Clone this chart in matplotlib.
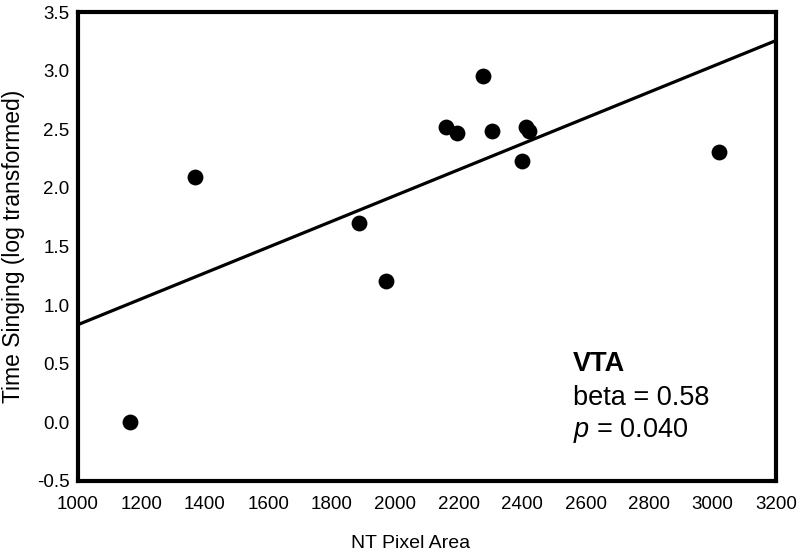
import numpy as np
import matplotlib
matplotlib.use("Agg")
import matplotlib.pyplot as plt

plt.rcParams.update({
    "font.family": ["Liberation Sans", "DejaVu Sans"],
    "mathtext.fontset": "custom",
    "mathtext.it": "Liberation Sans:italic",
    "mathtext.rm": "Liberation Sans",
})

# NT pixel area vs. time singing (log transformed), one point per bird
nt_area = [1164, 1369, 1886, 1971, 2159, 2195, 2277, 2306, 2412, 2422, 2400, 3020]
singing = [0.00, 2.09, 1.70, 1.21, 2.52, 2.465, 2.955, 2.49, 2.517, 2.485, 2.23, 2.31]

x_ticks = list(range(1000, 3201, 200))
y_ticks = [-0.5, 0.0, 0.5, 1.0, 1.5, 2.0, 2.5, 3.0, 3.5]

fig = plt.figure(figsize=(8.0, 5.54), dpi=100)
ax = fig.add_axes([0.0975, 0.1318, 0.8725, 0.8462])

ax.scatter(nt_area, singing, s=130, color="black", zorder=3, lw=0)

slope, icpt = np.polyfit(nt_area, singing, 1)
xl = np.array([1000, 3200])
ax.plot(xl, icpt + slope * xl, color="black", lw=2.3, zorder=2)

ax.set_xlim(1000, 3200)
ax.set_ylim(-0.5, 3.5)
ax.set_xticks(x_ticks)
ax.set_yticks(y_ticks)
ax.set_yticklabels([f"{v:.1f}" for v in y_ticks])
ax.tick_params(length=0, labelsize=13.5)
ax.tick_params(axis="x", pad=11)
ax.tick_params(axis="y", pad=6)
for sp in ax.spines.values():
    sp.set_linewidth(3)

ax.set_xlabel("NT Pixel Area", fontsize=14, labelpad=16)
ax.xaxis.label.set_x(0.476)
ax.set_ylabel("Time Singing (log transformed)", fontsize=16.5, labelpad=9)

ax.text(2560, 0.44, "VTA", fontsize=19.5, fontweight="bold", va="baseline")
ax.text(2560, 0.148, "beta = 0.58", fontsize=19.5, va="baseline")
ax.text(2560, -0.125, r"$p$ = 0.040", fontsize=19.5, va="baseline")

fig.savefig("out.png", dpi=100)
